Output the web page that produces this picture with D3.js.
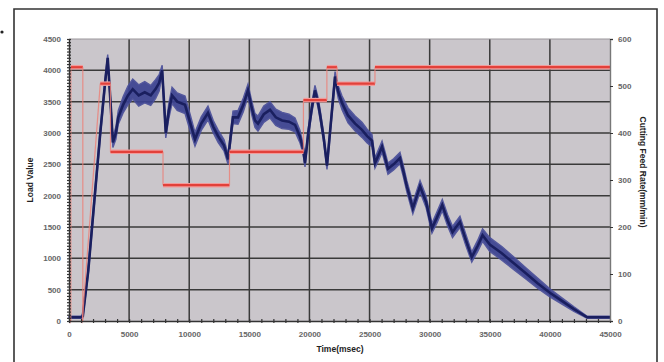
<!DOCTYPE html>
<html><head><meta charset="utf-8">
<script src="https://cdn.jsdelivr.net/npm/d3@7"></script>
<style>
html,body{margin:0;padding:0;background:#fff;}
svg{display:block;}
text{font-family:"Liberation Sans",Arial,sans-serif;}
</style></head>
<body>
<svg id="chart" width="664" height="362"></svg>
<script>
// ---- data ----
const loadTime = [0,1000,1150,1600,2100,2600,3000,3220,3450,3650,3900,4100,4500,4900,5300,5800,6300,6800,7200,7500,7750,7900,8050,8300,8570,9000,9650,10100,10480,11000,11560,12000,12400,12900,13230,13450,13640,14060,14500,14890,15200,15470,15720,16200,16720,17200,17720,18300,18800,19200,19470,19630,19900,20200,20460,20700,20880,21200,21460,21800,22130,22400,22710,23210,23800,24370,24800,25200,25450,25750,26040,26300,26530,27000,27530,27800,28100,28600,29200,29700,30190,30600,31050,31500,31900,32200,32520,33000,33500,34000,34400,35000,36000,37000,38000,39000,40000,41000,42000,43100,45000];
const loadValue = [60,60,80,800,1900,3000,3800,4200,3500,2850,3000,3250,3450,3600,3700,3600,3650,3600,3700,3800,4000,3500,3000,3350,3600,3500,3450,3150,2900,3150,3320,3100,2950,2800,2580,2950,3250,3250,3450,3680,3400,3200,3150,3300,3370,3250,3200,3180,3130,2950,2750,2520,3000,3400,3680,3500,3300,2900,2480,3200,3900,3650,3480,3280,3150,3050,2950,2880,2520,2650,2780,2600,2430,2500,2600,2400,2150,1800,2150,1900,1480,1650,1850,1600,1420,1500,1580,1300,1020,1200,1370,1220,1080,920,760,600,450,320,190,60,60];
const loadSpread = [15,15,30,60,70,70,70,50,70,80,100,110,130,150,160,170,170,160,150,130,80,80,80,120,130,140,140,130,110,110,110,100,100,90,80,90,100,110,110,100,110,110,120,130,130,130,130,120,110,100,80,60,70,80,80,80,80,70,60,70,80,100,110,120,120,120,110,100,80,90,90,90,90,90,90,90,90,90,90,90,80,90,90,90,90,90,90,90,80,90,100,110,110,100,90,80,65,50,35,15,15];

const feedTime = [0,150,150,1150,1150,1100,2600,3450,3450,7820,7820,13350,13350,19500,19500,21450,21450,22300,22300,25450,25450,45000];
const feedRate = [0,0,540,540,0,0,505,505,360,360,289,289,360,360,470,470,540,540,505,505,540,540];

const leftTicks = [0,500,1000,1500,2000,2500,3000,3500,4000,4500];
const rightTicks = [0,100,200,300,400,500,600];
const timeTicks = [0,5000,10000,15000,20000,25000,30000,35000,40000,45000];

// ---- layout ----
const svg = d3.select("#chart");
const L = 69, R = 610, T = 39, B = 321;
const x = d3.scaleLinear().domain([0,45000]).range([L,R]);
const yL = d3.scaleLinear().domain([0,4500]).range([B,T]);
const yR = d3.scaleLinear().domain([0,600]).range([B,T]);

// frame
svg.append("path").attr("d",`M14,362 L14,9 L657,9 L657,362`)
  .attr("fill","none").attr("stroke","#333").attr("stroke-width",1.6);
svg.append("circle").attr("cx",2).attr("cy",32).attr("r",1.6).attr("fill","#222");

// plot background
svg.append("rect").attr("x",L).attr("y",T).attr("width",R-L).attr("height",B-T)
  .attr("fill","#cac6cb");

// gridlines
const g = svg.append("g");
g.selectAll(".hg").data(leftTicks.filter(d=>d>0 && d<4500)).join("line")
  .attr("x1",L).attr("x2",R).attr("y1",d=>yL(d)).attr("y2",d=>yL(d))
  .attr("stroke","#3a3a3a").attr("stroke-width",1.5);
g.selectAll(".vg").data(timeTicks.filter(d=>d>0 && d<45000)).join("line")
  .attr("y1",T).attr("y2",B).attr("x1",d=>x(d)).attr("x2",d=>x(d))
  .attr("stroke","#3a3a3a").attr("stroke-width",1.5);
svg.append("line").attr("x1",L).attr("x2",R).attr("y1",T).attr("y2",T)
  .attr("stroke","#9a969b").attr("stroke-width",1);

// load band
const idx = d3.range(loadTime.length);
const area = d3.area().x(i=>x(loadTime[i]))
  .y0(i=>yL(loadValue[i]-loadSpread[i])).y1(i=>yL(loadValue[i]+loadSpread[i]));
svg.append("path").datum(idx).attr("d",area)
  .attr("fill","#3b4291").attr("stroke","#4a4f9a").attr("stroke-width",1.4).attr("opacity",0.92);
const line = d3.line().x(i=>x(loadTime[i])).y(i=>yL(loadValue[i]));
svg.append("path").datum(idx).attr("d",line)
  .attr("fill","none").attr("stroke","#1a1f5f").attr("stroke-width",2.6);

// feed rate
const fr = svg.append("g");
for (let i=0;i<feedTime.length-1;i++){
  const flat = feedRate[i]===feedRate[i+1];
  if (flat) {
    fr.append("line").attr("x1",x(feedTime[i])).attr("x2",x(feedTime[i+1]))
      .attr("y1",yR(feedRate[i])).attr("y2",yR(feedRate[i+1]))
      .attr("stroke","#f29a9a").attr("stroke-width",4.5);
    fr.append("line").attr("x1",x(feedTime[i])).attr("x2",x(feedTime[i+1]))
      .attr("y1",yR(feedRate[i])).attr("y2",yR(feedRate[i+1]))
      .attr("stroke","#e2413a").attr("stroke-width",2.2);
  } else {
    fr.append("line").attr("x1",x(feedTime[i])).attr("x2",x(feedTime[i+1]))
      .attr("y1",yR(feedRate[i])).attr("y2",yR(feedRate[i+1]))
      .attr("stroke","#ee7f76").attr("stroke-width",1.2).attr("opacity",0.8);
  }
}

// axes
const tickStyle = sel => {
  sel.selectAll("text").attr("font-size","8px").attr("fill","#666").attr("font-weight","bold");
  sel.select(".domain").attr("stroke","#333").attr("stroke-width",1.4);
  sel.selectAll(".tick line").attr("stroke","#333");
};
const ax = svg.append("g").attr("transform",`translate(0,${B})`)
  .call(d3.axisBottom(x).tickValues(timeTicks).tickFormat(d3.format("d")).tickSize(0).tickPadding(10));
tickStyle(ax);
const axm = svg.append("g").attr("transform",`translate(0,${B+2})`)
  .call(d3.axisBottom(x).tickValues(d3.range(0,45001,1000)).tickFormat("").tickSize(-4).tickSizeOuter(0));
axm.select(".domain").remove(); axm.selectAll(".tick line").attr("stroke","#333").attr("stroke-width",1.2);

const ay = svg.append("g").attr("transform",`translate(${L},0)`)
  .call(d3.axisLeft(yL).tickValues(leftTicks).tickFormat(d3.format("d")).tickSize(0).tickPadding(8));
tickStyle(ay);
const aym = svg.append("g").attr("transform",`translate(${L+2},0)`)
  .call(d3.axisLeft(yL).tickValues(d3.range(0,4501,50)).tickFormat("").tickSize(4).tickSizeOuter(0));
aym.select(".domain").remove(); aym.selectAll(".tick line").attr("stroke","#333").attr("stroke-width",1.2);

const ar = svg.append("g").attr("transform",`translate(${R},0)`)
  .call(d3.axisRight(yR).tickValues(rightTicks).tickFormat(d3.format("d")).tickSize(3).tickPadding(5));
tickStyle(ar);
ar.select(".domain").attr("stroke","#777");

// titles
svg.append("text").attr("x",340).attr("y",352).attr("text-anchor","middle")
  .attr("font-size","8.5px").attr("font-weight","bold").attr("fill","#222").text("Time(msec)");
svg.append("text").attr("transform","translate(33,180) rotate(-90)").attr("text-anchor","middle")
  .attr("font-size","8.5px").attr("font-weight","bold").attr("fill","#222").text("Load Value");
svg.append("text").attr("transform","translate(640,172) rotate(90)").attr("text-anchor","middle")
  .attr("font-size","8.5px").attr("font-weight","bold").attr("fill","#222").text("Cutting Feed Rate(mm/min)");
</script>
</body></html>
